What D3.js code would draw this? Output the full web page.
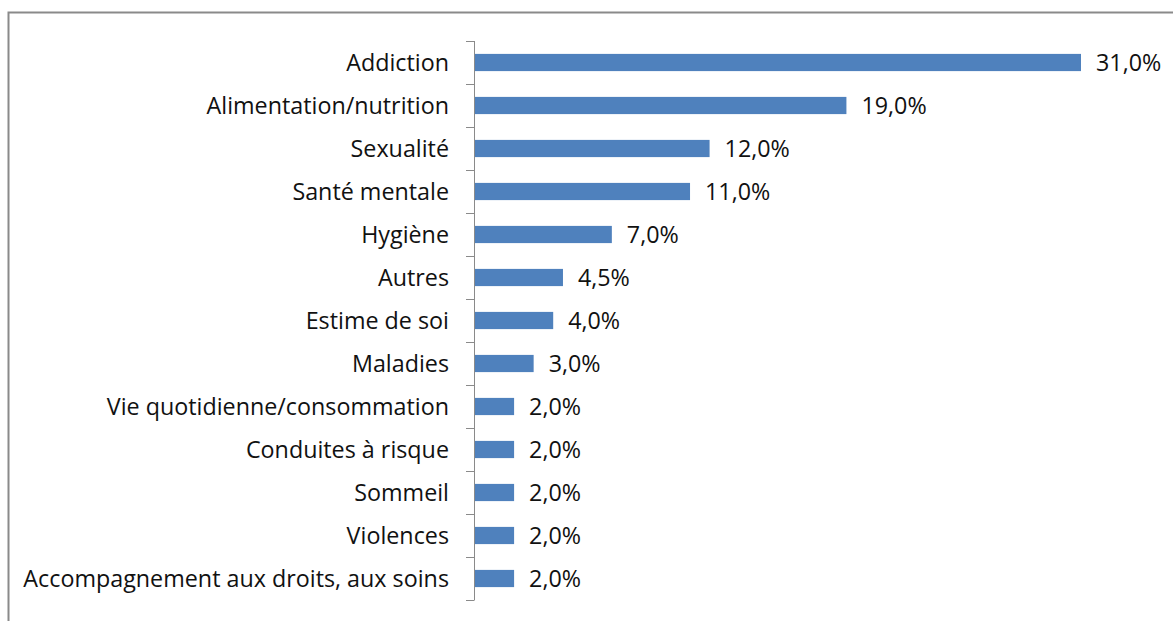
<!DOCTYPE html>
<html>
<head>
<meta charset="utf-8">
<script src="https://cdn.jsdelivr.net/npm/d3@7"></script>
<style>
  body { margin: 0; background: #fff; }
  text { font-family: "Open Sans", sans-serif; fill: #111; }
</style>
</head>
<body>
<svg width="1173" height="621"></svg>
<script>
// catégories et valeurs (%)
var categories = ["Addiction", "Alimentation/nutrition", "Sexualité", "Santé mentale", "Hygiène", "Autres",
    "Estime de soi", "Maladies", "Vie quotidienne/consommation", "Conduites à risque", "Sommeil", "Violences",
    "Accompagnement aux droits, aux soins"];
var values = [31.0, 19.0, 12.0, 11.0, 7.0, 4.5, 4.0, 3.0, 2.0, 2.0, 2.0, 2.0, 2.0];

var data = categories.map((c, i) => ({ name: c, value: values[i] }));

const svg = d3.select('svg');
const width = +svg.attr('width');
const height = +svg.attr('height');

// cadre du graphique
svg.append('path')
    .attr('d', `M8.5,${height} V12.5 H${width}`)
    .attr('fill', 'none')
    .attr('stroke', '#8a8a8a')
    .attr('stroke-width', 2);

const margin = { left: 474, top: 41, right: 0, bottom: 21 };
const innerHeight = height - margin.top - margin.bottom;

const g = svg.append('g')
    .attr('transform', `translate(${margin.left},${margin.top})`);

const xScale = d3.scaleLinear()
    .domain([0, 31])
    .range([1, 607]);

const yScale = d3.scaleBand()
    .domain(categories)
    .range([0, innerHeight])
    .paddingInner(0.6)
    .paddingOuter(0.3);

// axe vertical avec petites graduations entre catégories
g.append('line')
    .attr('x1', 0.5).attr('x2', 0.5)
    .attr('y1', 0).attr('y2', innerHeight)
    .attr('stroke', '#8a8a8a');

var step = innerHeight / categories.length;
g.selectAll('.tick')
    .data(d3.range(categories.length + 1))
    .enter().append('line')
    .attr('class', 'tick')
    .attr('x1', -8).attr('x2', 0.5)
    .attr('y1', d => Math.round(d * step) + 0.5)
    .attr('y2', d => Math.round(d * step) + 0.5)
    .attr('stroke', '#8a8a8a');

var bar = g.selectAll('.bar')
    .data(data)
    .enter().append('g')
    .attr('class', 'bar')
    .attr('transform', d => `translate(0,${yScale(d.name)})`);

bar.append('rect')
    .attr('x', xScale(0))
    .attr('height', yScale.bandwidth())
    .attr('width', d => xScale(d.value) - xScale(0))
    .attr('fill', '#4f81bd');

bar.append('text')
    .attr('x', -25)
    .attr('y', yScale.bandwidth() / 2)
    .attr('dy', '0.35em')
    .attr('text-anchor', 'end')
    .style('font-size', '23.3px')
    .text(d => d.name);

bar.append('text')
    .attr('x', d => xScale(d.value) + 15)
    .attr('y', yScale.bandwidth() / 2)
    .attr('dy', '0.35em')
    .style('font-size', '23.3px')
    .text(d => d3.format('.1f')(d.value).replace('.', ',') + '%');
</script>
</body>
</html>
